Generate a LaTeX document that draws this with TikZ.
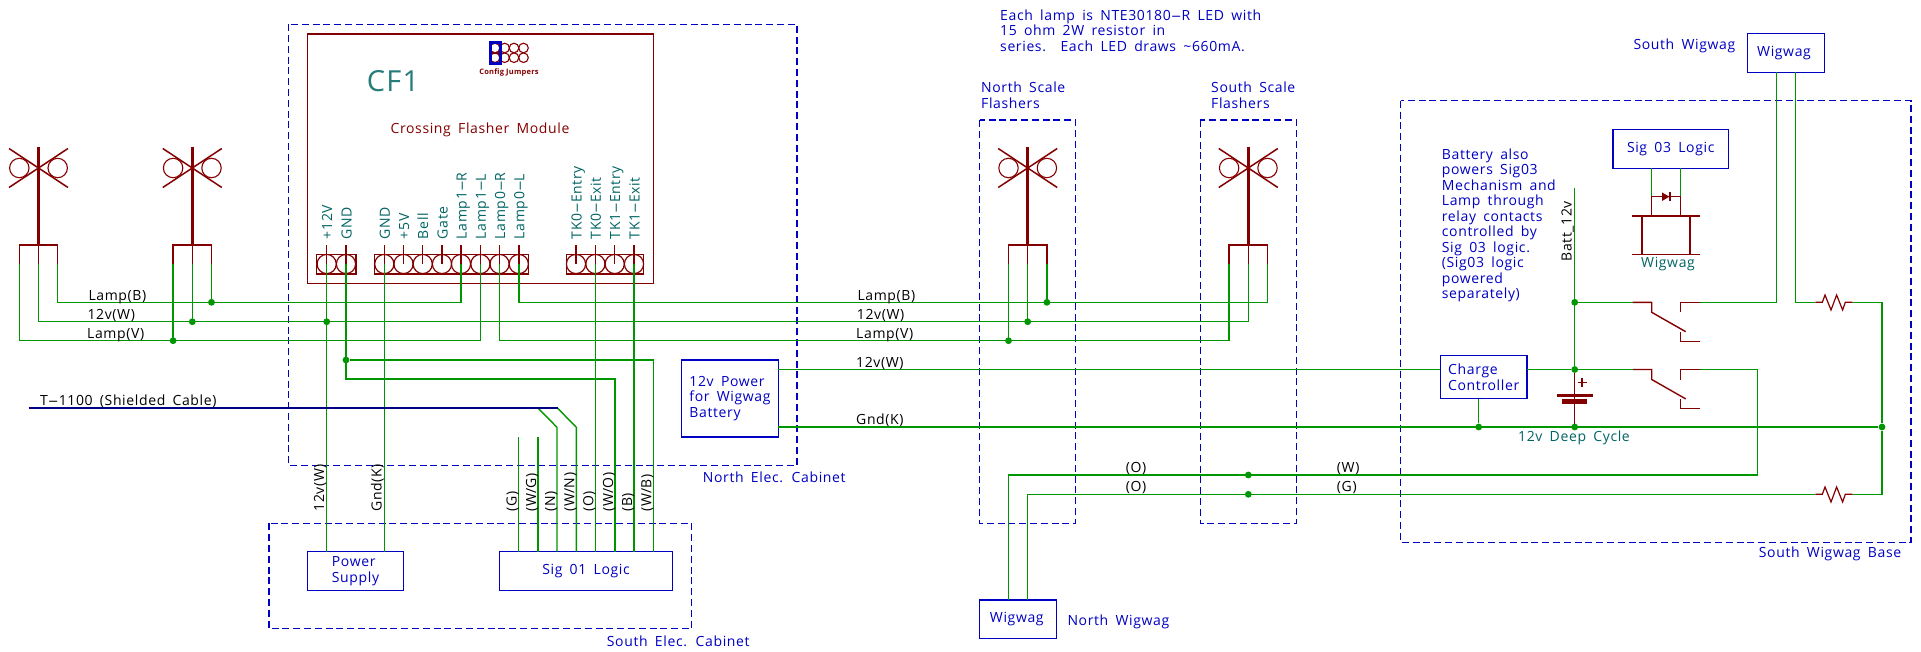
\documentclass[tikz,border=0pt]{standalone}
\usepackage{fontspec}
\usepackage{graphicx}
\setmainfont[LetterSpace=4.5,WordSpace=1.7]{Open Sans}
\newfontfamily\boldsmall[LetterSpace=3]{Open Sans Bold}
\newcommand{\hy}{\scalebox{2.4}[1]{-}}
\definecolor{wirec}{HTML}{009600}
\definecolor{redc}{HTML}{840000}
\definecolor{bluec}{HTML}{0000C2}
\definecolor{tealc}{HTML}{006464}
\definecolor{navyc}{HTML}{000084}
\tikzset{
  x=1pt,y=-1pt,
  wire/.style={draw=wirec,line width=1.4pt,line join=miter},
  redl/.style={draw=redc,line width=1.4pt,line join=miter},
  dashbox/.style={draw=bluec,line width=1.4pt,dash pattern=on 7pt off 3.8pt},
  bluebox/.style={draw=bluec,line width=1.4pt,rectangle,inner sep=0pt,outer sep=0pt,text=bluec,align=left,font=\fontsize{14}{15.5}\selectfont},
  jdot/.style={circle,fill=wirec,draw=none,minimum size=6.8pt,inner sep=0pt},
  bluet/.style={text=bluec,inner sep=0pt,font=\fontsize{14}{15.5}\selectfont,align=left,anchor=west},
  blackt/.style={text=black,inner sep=0pt,font=\fontsize{14}{15.5}\selectfont,anchor=base west},
  tealt/.style={text=tealc,inner sep=0pt,font=\fontsize{14}{15.5}\selectfont},
  pinlabel/.style={tealt,rotate=90,anchor=base west},
  rotlabel/.style={blackt,rotate=90,anchor=base west},
  xbuck/.pic={
    \draw[redc,line width=3.4pt] (0,-21)--(0,77);
    \draw[redc,line width=1.5pt] (-29.5,-19.5)--(29.5,19.5) (-29.5,19.5)--(29.5,-19.5);
    \draw[redl,line width=1.1pt] (-19.2,0) circle[radius=9.7pt] (19.2,0) circle[radius=9.7pt];
    \draw[redl] (-19.2,96)|-(19.2,77)--(19.2,96) (0,77)--(0,96);
    \coordinate (-l) at (-19.2,96);
    \coordinate (-c) at (0,96);
    \coordinate (-r) at (19.2,96);
  },
  relaysw/.pic={
    \draw[redl] (0,0)-|(19,10)--(53,29.4);
    \draw[redl] (47.6,10)|-(67,0);
    \draw[redl] (47.6,29.4)|-(67,39);
    \coordinate (-in) at (0,0);
    \coordinate (-out) at (67,0);
  },
  resist/.pic={
    \draw[redl,line width=1.2pt] (0,0)--(7,0)--(9.7,-7.3)--(15.7,7.7)--(21.3,-7.3)--(27.3,7.7)--(30,0)--(37.4,0);
    \coordinate (-a) at (0,0);
    \coordinate (-b) at (37.4,0);
  }
}
\begin{document}
\begin{tikzpicture}
\useasboundingbox[fill=white] (0,0) rectangle (1921,651);

% dashed enclosures
\draw[dashbox] (288.4,24.2) rectangle (797,465.4);
\draw[dashbox] (269,523.3) rectangle (691.7,628.7);
\draw[dashbox] (979.7,120) rectangle (1075.7,523.3);
\draw[dashbox] (1200.3,120) rectangle (1296.3,523.3);
\draw[dashbox] (1400.5,100.7) rectangle (1911,542.3);

% module
\draw[redl] (307.3,34) rectangle (653.3,283.3);
\draw[redl] (316.7,254.4) rectangle (356,274);
\draw[redl] (374.4,254.4) rectangle (528.7,274);
\draw[redl] (566.7,254.4) rectangle (643.7,274);
\foreach \x/\n/\t in {326.7/p12/+12V,346/pgnd/GND,384.3/pgndb/GND,403.5/pfive/+5V,422.7/pbell/Bell,442/pgate/Gate,461/plar/Lamp1\hy R,480.4/plal/Lamp1\hy L,499.6/plbr/Lamp0\hy R,518.8/plbl/Lamp0\hy L,576/ptae/TK0\hy Entry,595.4/ptax/TK0\hy Exit,614.7/ptbe/TK1\hy Entry,634/ptbx/TK1\hy Exit}{
  \draw[redl] (\x,245)--(\x,264);
  \draw[redl,line width=1.2pt] (\x,264) circle[radius=9.6pt];
  \coordinate (\n) at (\x,264);
  \node[pinlabel] (lbl\n) at (\x+5.5,239.3) {\t};
}
\node[text=tealc!85,inner sep=0pt,font=\fontsize{29}{30}\selectfont] (cfone) at (393,81) {CF1};
\node[text=redc,inner sep=0pt,font=\fontsize{14}{15.5}\selectfont] (cfm) at (480,130) {Crossing Flasher Module};
\node[text=redc,inner sep=0pt,font=\boldsmall\fontsize{7.5}{9}\selectfont] (cfj) at (509,72.3) {Config Jumpers};
\foreach \x in {495,504.6,514,523.5}\foreach \y in {48,57.7}{\draw[redl,line width=1.1pt] (\x,\y) circle[radius=4.8pt];}
\draw[draw=bluec,line width=3pt] (490,42.5) rectangle (500.4,63.3);
\draw[redl] (492,52.8)--(498.5,52.8);

% boxes
\node[bluebox,minimum width=96.4pt,minimum height=38.6pt] (psu) at (355.5,571) {Power\\Supply};
\node[bluebox,minimum width=173.4pt,minimum height=38.6pt] (logic) at (586,571) {Sig 01 Logic};
\node[bluebox,minimum width=96.6pt,minimum height=77pt] (pwr) at (730,398.5) {12v Power\\for Wigwag\\Battery};
\node[bluebox,minimum width=77pt,minimum height=38.7pt] (wwn) at (1017.8,619.3) {\raisebox{2.5pt}{Wigwag}\hspace*{2pt}};
\node[bluebox,minimum width=77.4pt,minimum height=38.6pt] (wws) at (1786,53) {\raisebox{2.5pt}{Wigwag}\hspace*{4pt}};
\node[bluebox,minimum width=115.3pt,minimum height=38.6pt] (sig) at (1670.7,149) {Sig 03 Logic};
\node[bluebox,minimum width=86.7pt,minimum height=43.4pt] (chg) at (1483.7,377) {Charge\\Controller};

% crossbucks
\pic (ca) at (38.5,168) {xbuck};
\pic (cb) at (192.3,168) {xbuck};
\pic (cc) at (1027.7,168) {xbuck};
\pic (cd) at (1248.3,168) {xbuck};

% junction coordinates
\coordinate (yb) at (0,302.3);
\coordinate (yw) at (0,321.7);
\coordinate (yv) at (0,340.7);

% lamp wiring
\draw[wire] (ca-r)|-(plar |- yb)--(plar);
\draw[wire] (ca-c)|-(cd-c |- yw)--(cd-c);
\draw[wire] (ca-l)|-(plal |- yv)--(plal);
\draw[wire] (plbl)|-(cd-r |- yb)--(cd-r);
\draw[wire] (plbr)|-(cd-l |- yv)--(cd-l);
\draw[wire] (cb-r)--(cb-r |- yb);
\draw[wire] (cb-c)--(cb-c |- yw);
\draw[wire] (cb-l)--(cb-l |- yv);
\draw[wire] (cc-r)--(cc-r |- yb);
\draw[wire] (cc-c)--(cc-c |- yw);
\draw[wire] (cc-l)--(cc-l |- yv);
\node[jdot] (ja) at (cb-r |- yb) {};
\node[jdot] (jb) at (cb-c |- yw) {};
\node[jdot] (jc) at (cb-l |- yv) {};
\node[jdot] (jd) at (cc-r |- yb) {};
\node[jdot] (je) at (cc-c |- yw) {};
\node[jdot] (jf) at (cc-l |- yv) {};
\node[jdot] (jg) at (p12 |- yw) {};

% power and logic wiring
\coordinate (lwb) at (653.3,551.7);
\coordinate (lwo) at (615,551.7);
\coordinate (lo) at (595.4,551.7);
\coordinate (lb) at (634,551.7);
\coordinate (ln) at (557,551.7);
\coordinate (lwn) at (576.3,551.7);
\coordinate (lg) at (518.7,551.7);
\coordinate (lwg) at (538,551.7);
\draw[wire] (p12)--(p12 |- psu.north);
\draw[wire] (pgndb)--(pgndb |- psu.north);
\node[jdot] (jh) at (346,360) {};
\draw[wire] (pgnd)|-(lwo |- 0,379)--(lwo);
\draw[wire] (jh)-|(lwb);
\draw[wire] (ptax)--(lo);
\draw[wire] (ptbx)--(lb);
\draw[wire] (lg)--(518.7,436.7);
\draw[wire] (lwg)--(538,436.7);
\coordinate (cabA) at (538.3,408.3);
\coordinate (cabB) at (557.7,408.3);
\draw[wire] (ln)--(557,427.3)--(cabA);
\draw[wire] (lwn)--(576.3,427.3)--(cabB);
\coordinate (cabS) at (28.5,408.3);
\draw[draw=navyc,line width=2.2pt] (cabS)--(cabB);

% battery side wiring
\coordinate (bt) at (1574.7,187.7);
\node[jdot] (j12) at (1574.7,302.3) {};
\node[jdot] (jch) at (1574.7,369.5) {};
\node[jdot] (jgb) at (1574.7,427) {};
\node[jdot] (jgc) at (1478.7,427) {};
\node[jdot] (jgr) at (1882,427) {};
\pic (rla) at (1632.7,302.3) {relaysw};
\pic (rlb) at (1632.7,369.5) {relaysw};
\pic (ra) at (1815.3,302.3) {resist};
\pic (rb) at (1815.3,494.3) {resist};
\draw[wire] (bt)--(jch);
\draw[wire] (j12)--(rla-in);
\draw[wire] (jch)--(rlb-in);
\draw[wire] (rla-out)-|(1776.3,72.3);
\draw[wire] (1795.7,72.3)|-(ra-a);
\draw[wire] (ra-b)-|(jgr)|-(rb-b);
\draw[wire] (pwr.east |- 0,369.5)--(chg.west |- 0,369.5);
\draw[wire] (chg.east |- jch)--(jch);
\draw[wire] (pwr.east |- 0,427)--(jgr);
\draw[wire] (jgc)--(jgc |- chg.south);
\coordinate (wa) at (1008.3,600);
\coordinate (wb) at (1027.7,600);
\node[jdot] (ji) at (1248.3,475) {};
\node[jdot] (jj) at (1248.3,494.3) {};
\draw[wire] (rlb-out)-|(1757.3,475)--(1008.3,475)--(wa);
\draw[wire] (rb-a)--(1027.7,494.3)--(wb);
\draw[wire] (1651.7,168.3)--(1651.7,196.7);
\draw[wire] (1680.3,168.3)--(1680.3,196.7);

% battery
\draw[redl] (1574.7,373)--(1574.7,424);
\draw[draw=redc,line width=3pt] (1557,395.7)--(1592.7,395.7);
\draw[draw=redc,line width=5pt] (1562.3,401)--(1586.7,401);
\draw[draw=redc,line width=1.6pt] (1577.5,382.3)--(1586.5,382.3) (1582,378)--(1582,387);

% wigwag symbol on relay
\draw[redl] (1651.7,216)|-(1680.3,196.7)--(1680.3,216);
\fill[redc] (1662,192.4)--(1662,201)--(1669.3,196.7)--cycle;
\draw[redc,line width=1.4pt] (1670,192.4)--(1670,201);
\draw[redl] (1632,216)--(1700,216) (1632,254.7)--(1700,254.7) (1642,216)--(1642,254.7) (1690,216)--(1690,254.7);

% labels
\node[bluet] (tnote) at (1000,30.5) {Each lamp is NTE30180\hy R LED with\\15 ohm 2W resistor in\\series.\ \ Each LED draws \char`~660mA.};
\node[bluet] (tns) at (981,95) {North Scale\\Flashers};
\node[bluet] (tss) at (1211,95) {South Scale\\Flashers};
\node[bluet] (tnec) at (702.7,477) {North Elec. Cabinet};
\node[bluet] (tsec) at (606.7,641) {South Elec. Cabinet};
\node[bluet] (tswb) at (1758.7,554) {South Wigwag Base};
\node[bluet] (tsw) at (1633.3,46) {South Wigwag};
\node[bluet] (tnw) at (1067.3,622) {North Wigwag};
\node[bluet] (tbat) at (1441.7,225.5) {Battery also\\powers Sig03\\Mechanism and\\Lamp through\\relay contacts\\controlled by\\Sig 03 logic.\\(Sig03 logic\\powered\\separately)};
\node[tealt] (tdc) at (1574,437.5) {12v Deep Cycle};
\node[tealt] (tww) at (1668,264.5) {Wigwag};
\node[blackt] (l1) at (88.3,300) {Lamp(B)};
\node[blackt] (l2) at (87.3,319) {12v(W)};
\node[blackt] (l3) at (87,338) {Lamp(V)};
\node[blackt] (l4) at (857.3,300) {Lamp(B)};
\node[blackt] (l5) at (856.7,319) {12v(W)};
\node[blackt] (l6) at (856,338.5) {Lamp(V)};
\node[blackt] (l7) at (856,367) {12v(W)};
\node[blackt] (l8) at (856,424.5) {Gnd(K)};
\node[blackt] (l9) at (1125.7,472.5) {(O)};
\node[blackt] (l10) at (1125.7,491.7) {(O)};
\node[blackt] (l11) at (1336.7,472.5) {(W)};
\node[blackt] (l12) at (1336.7,491.7) {(G)};
\node[blackt] (l13) at (40,405.5) {T\hy 1100 (Shielded Cable)};
\node[rotlabel] (r1) at (324,511.7) {12v(W)};
\node[rotlabel] (r2) at (381.7,511.7) {Gnd(K)};
\foreach \x/\t/\n in {518.7/(G)/a,538/(W\slash G)/b,557/(N)/c,576.3/(W\slash N)/d,595.4/(O)/e,615/(W\slash O)/f,634/(B)/g,653.3/(W\slash B)/h}{
  \node[rotlabel] (rr\n) at (\x-2,511.7) {\t};
}
\node[rotlabel] (tb12) at (1571.5,261.7) {Batt\_12v};
\end{tikzpicture}
\end{document}
